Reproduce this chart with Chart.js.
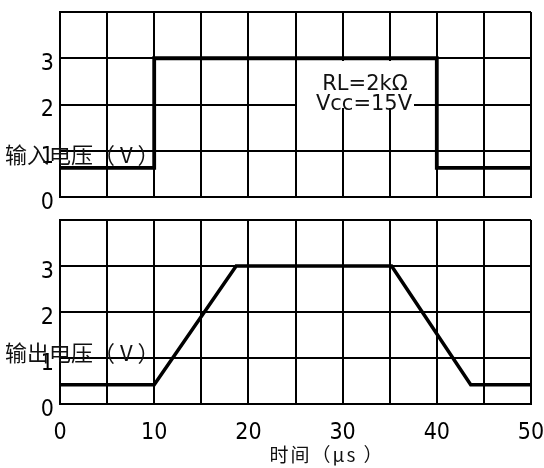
<!DOCTYPE html>
<html><head><meta charset="utf-8">
<script src="https://cdn.jsdelivr.net/npm/chart.js@4.4.1/dist/chart.umd.min.js"></script>
<style>
html,body{margin:0;padding:0;background:#fff;width:544px;height:468px;overflow:hidden;}
.box{position:absolute;left:0;width:544px;}
</style></head><body>
<div class="box" style="top:0;height:230px"><canvas id="c1" width="544" height="230" style="width:544px;height:230px"></canvas></div>
<div class="box" style="top:210px;height:258px"><canvas id="c2" width="544" height="258" style="width:544px;height:258px"></canvas></div>
<script>
// ---- data ----
const inputTime  = [0, 10, 10, 40, 40, 50];
const inputVolt  = [0.63, 0.63, 3, 3, 0.63, 0.63];
const outputTime = [0, 10, 18.7, 35.2, 43.6, 50];
const outputVolt = [0.42, 0.42, 3, 3, 0.42, 0.42];
const xTickLabels = ['0', '10', '20', '30', '40', '50'];
const yTickLabels = ['0', '1', '2', '3'];
const inputLabel  = '输入电压（ V ）';
const outputLabel = '输出电压（ V ）';
const xTitle      = '时间（μs ）';
const noteLines   = ['RL=2kΩ', 'Vcc=15V'];

const DIGIT_FONT = '"DejaVu Sans Condensed","Liberation Sans",sans-serif';
const CJK_FONT = '"Noto Sans CJK SC","Noto Sans",sans-serif';

function pts(xs, ys) { return xs.map((x, i) => ({x: x, y: ys[i]})); }

function makeScales(showX, xAxisHeight) {
  return {
    x: {
      type: 'linear', min: 0, max: 50,
      grid: {color: '#000', lineWidth: 2, drawTicks: false},
      border: {color: '#000', width: 2},
      ticks: {
        display: showX, stepSize: 5, autoSkip: false, maxRotation: 0, padding: 15,
        color: '#000', font: {family: DIGIT_FONT, size: 23},
        callback: (v, i) => (i % 2 === 0 ? xTickLabels[i / 2] : '')
      },
      afterFit: (s) => { s.height = xAxisHeight; s.paddingLeft = 0; s.paddingRight = 0; }
    },
    y: {
      min: 0, max: 4,
      grid: {color: '#000', lineWidth: 2, drawTicks: false},
      border: {color: '#000', width: 2},
      ticks: {
        stepSize: 1, padding: 6, color: '#000', labelOffset: 6,
        font: {family: DIGIT_FONT, size: 23},
        callback: (v, i) => (yTickLabels[i] !== undefined ? yTickLabels[i] : '')
      },
      afterFit: (s) => { s.width = 60; s.paddingTop = 0; s.paddingBottom = 0; }
    }
  };
}

const textPlugin = (draw) => ({ id: 'txt', afterDatasetsDraw: (chart) => { const c = chart.ctx; c.save(); draw(c); c.restore(); } });

new Chart(document.getElementById('c1'), {
  type: 'line',
  data: { datasets: [{ data: pts(inputTime, inputVolt), borderColor: '#000', borderWidth: 3.8, pointRadius: 0, tension: 0, fill: false }] },
  options: {
    responsive: false, animation: false,
    layout: { padding: {top: 12, right: 13, left: 0, bottom: 0} },
    plugins: { legend: {display: false}, tooltip: {enabled: false} },
    scales: makeScales(false, 33)
  },
  plugins: [textPlugin((c) => {
    c.fillStyle = '#fff';
    c.fillRect(297, 61, 117, 47);
    c.fillStyle = '#111';
    c.font = '21px "DejaVu Sans",sans-serif';
    c.textAlign = 'center'; c.textBaseline = 'middle';
    c.fillText(noteLines[0], 365, 85);
    c.fillText(noteLines[1], 364, 105);
    c.font = '22px ' + CJK_FONT;
    c.textAlign = 'left';
    c.fillText(inputLabel, 5, 155);
  })]
});

new Chart(document.getElementById('c2'), {
  type: 'line',
  data: { datasets: [{ data: pts(outputTime, outputVolt), borderColor: '#000', borderWidth: 3.5, pointRadius: 0, tension: 0, fill: false }] },
  options: {
    responsive: false, animation: false,
    layout: { padding: {top: 10, right: 13, left: 0, bottom: 0} },
    plugins: { legend: {display: false}, tooltip: {enabled: false} },
    scales: makeScales(true, 64)
  },
  plugins: [textPlugin((c) => {
    c.fillStyle = '#111';
    c.font = '22px ' + CJK_FONT;
    c.textAlign = 'left'; c.textBaseline = 'middle';
    c.fillText(outputLabel, 5, 143);
    c.font = '19px ' + CJK_FONT;
    c.letterSpacing = '2px';
    c.textAlign = 'center';
    c.fillText(xTitle, 327, 245);
  })]
});
</script>
</body></html>
